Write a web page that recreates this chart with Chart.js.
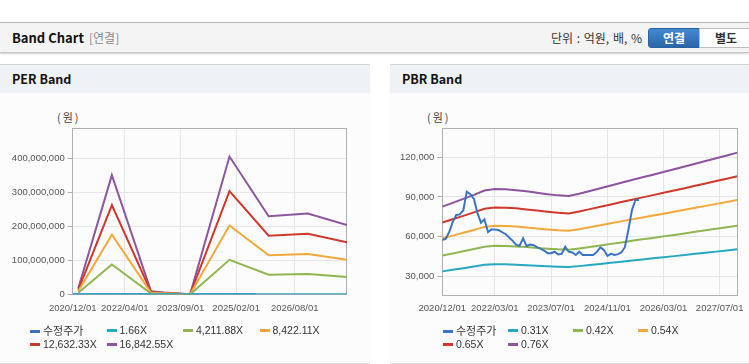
<!DOCTYPE html>
<html>
<head>
<meta charset="utf-8">
<script src="https://cdn.jsdelivr.net/npm/chart.js@4.4.1/dist/chart.umd.min.js"></script>
<style>
  body { margin:0; width:749px; height:364px; overflow:hidden; position:relative; background:#fff;
         font-family:"Noto Sans CJK KR", "Liberation Sans", sans-serif; color:#333; }
  .abs { position:absolute; }
  #hdr { left:0; top:22px; width:749px; height:29px; background:#f4f4f4; border-top:1px solid #b9b9b9;
         border-bottom:1px solid #c4c4c4; box-shadow:0 1px 2px rgba(0,0,0,.18); }
  #hdr .ttl { left:12px; top:0; line-height:29px; font-weight:bold; font-size:13px; color:#111; }
  #hdr .sub { left:89px; top:0; line-height:29px; font-size:12px; color:#8a8a8a; }
  #hdr .unit { left:551px; top:0; line-height:29px; font-size:12px; color:#333; word-spacing:1px; }
  .btn { top:5px; height:18px; line-height:18px; font-size:12px; font-weight:bold; text-align:center; }
  #b1 { left:648px; width:50px; color:#fff; background:linear-gradient(#4289d2,#2b66a6); border:1px solid #2a62a0; border-radius:3px 0 0 3px; }
  #b2 { left:699px; width:52px; color:#333; background:#fff; border:1px solid #bdbdbd; }
  .panel { top:64px; height:298px; background:#fcfcfc; border-top:1px solid #d3d3d3; border-bottom:1px solid #dcdcdc; }
  .panel .ptl { height:28px; line-height:28px; background:#eef2f7; padding-left:12px; font-weight:bold; font-size:12.5px; color:#111; }
  .unitlbl { font-size:11px; color:#444; top:109px; letter-spacing:2px; }
  canvas { position:absolute; top:100px; }
  .legend { position:absolute; top:323px; font-family:"Liberation Sans", "Noto Sans CJK KR", sans-serif; font-size:10.5px; color:#333; display:flex; flex-wrap:wrap; }
  .legend div { height:14px; line-height:14px; white-space:nowrap; }
  .legend i { display:inline-block; width:10px; height:3px; vertical-align:middle; margin-right:3px; position:relative; top:-1px; }
  .legend .ko { font-family:"Noto Sans CJK KR", sans-serif; font-size:11px; }
</style>
</head>
<body>
<div id="hdr" class="abs">
  <span class="abs ttl">Band Chart</span>
  <span class="abs sub">[연결]</span>
  <span class="abs unit">단위 : 억원, 배, %</span>
  <div id="b1" class="abs btn">연결</div>
  <div id="b2" class="abs btn">별도</div>
</div>

<div class="abs panel" style="left:0;width:370px;"><div class="ptl">PER Band</div></div>
<div class="abs panel" style="left:390px;width:370px;"><div class="ptl">PBR Band</div></div>

<span class="abs unitlbl" style="left:57px;">(원)</span>
<span class="abs unitlbl" style="left:427px;">(원)</span>

<canvas id="perChart" width="370" height="225" style="left:0;"></canvas>
<canvas id="pbrChart" width="359" height="225" style="left:390px;"></canvas>

<div id="perLegend" class="legend" style="left:30px;width:320px;"></div>
<div id="pbrLegend" class="legend" style="left:443px;width:280px;"></div>

<script>
// --- series names / colours ---
const colors = ['#3b74c6', '#27a8c0', '#8fb650', '#f2a83c', '#d0382e', '#8c559f'];
const perNames = ['수정주가', '1.66X', '4,211.88X', '8,422.11X', '12,632.33X', '16,842.55X'];
const pbrNames = ['수정주가', '0.31X', '0.42X', '0.54X', '0.65X', '0.76X'];

// --- axis ticks ---
const perXTicks = ['2020/12/01', '2022/04/01', '2023/09/01', '2025/02/01', '2026/08/01'];
const pbrXTicks = ['2020/12/01', '2022/03/01', '2023/07/01', '2024/11/01', '2026/03/01', '2027/07/01'];
const perYTicks = [0, 100000000, 200000000, 300000000, 400000000];
const pbrYTicks = [30000, 60000, 90000, 120000];
const xStart = '2020/12/01', xEnd = '2027/12/01';

// --- adjusted price (monthly, 2020/12 .. 2025/08) ---
const price = [57500, 58500, 64000, 71000, 76400, 76800, 80000, 94000, 92000, 88500, 78000, 70600,
  73100, 63500, 65500, 65300, 65000, 63500, 62000, 59500, 57000, 54000, 52900, 58700,
  53000, 54000, 53500, 52000, 51000, 49500, 47500, 47500, 48600, 46500, 47000, 52400,
  48600, 48000, 46100, 48600, 46100, 46100, 46100, 46100, 48500, 51900, 50000, 45400,
  47000, 46100, 46800, 48000, 52000, 65000, 80000, 87700, 87700];

// --- PER band ---
const perDates = ['2021/01/22', '2021/12/01', '2022/12/01', '2023/04/01', '2023/12/01', '2024/12/01', '2025/12/01', '2026/12/01', '2027/12/01'];
const perLowDates = ['2020/12/01', '2021/12/01', '2022/12/01', '2023/12/01', '2024/12/01', '2025/12/01', '2026/12/01', '2027/12/01'];
const per166 = [1700, 34600, 900, 50, 40000, 22700, 23400, 20100];
const per4211 = [4400000, 88000000, 2300000, 1400000, 100000, 101500000, 57500000, 59500000, 51000000];
const per8422 = [8800000, 175500000, 4500000, 2800000, 250000, 203000000, 115000000, 119000000, 102000000];
const per12632 = [13200000, 263000000, 6800000, 4100000, 400000, 304000000, 172500000, 178500000, 153000000];
const per16842 = [17600000, 351000000, 9000000, 5500000, 500000, 406000000, 230000000, 238000000, 204000000];

// --- PBR band (quarterly, 2020/12 .. 2027/12) ---
const pbr031 = [33730, 34880, 36120, 37360, 38690, 39150, 39060, 38810, 38440, 38010, 37570, 37200, 36980, 37700, 38530,
  39370, 40240, 41080, 41940, 42780, 43590, 44420, 45260, 46100, 46970, 47800, 48670, 49510, 50380];
const pbr042 = [45700, 47250, 48930, 50610, 52420, 53050, 52920, 52580, 52080, 51490, 50900, 50400, 50110, 51070, 52210,
  53340, 54520, 55650, 56830, 57960, 59050, 60190, 61320, 62450, 63630, 64760, 65940, 67070, 68250];
const pbr054 = [58750, 60750, 62910, 65070, 67390, 68200, 68040, 67610, 66960, 66200, 65450, 64800, 64420, 65660, 67120,
  68580, 70090, 71550, 73060, 74520, 75920, 77380, 78840, 80300, 81810, 83270, 84780, 86240, 87750];
const pbr065 = [70720, 73130, 75730, 78330, 81120, 82100, 81900, 81380, 80600, 79690, 78780, 78000, 77550, 79040, 80800,
  82550, 84370, 86130, 87950, 89700, 91390, 93150, 94900, 96660, 98480, 100230, 102050, 103810, 105630];
const pbr076 = [82690, 85500, 88540, 91580, 94850, 95990, 95760, 95150, 94240, 93180, 92110, 91200, 90670, 92420, 94470,
  96520, 98650, 100700, 102830, 104880, 106860, 108910, 110960, 113010, 115140, 117190, 119320, 121370, 123500];

// --- helpers ---
const T0 = Date.UTC(2020, 11, 1);
function day(s) { const [y, m, d] = s.split('/').map(Number); return (Date.UTC(y, m - 1, d) - T0) / 864e5; }
function monthDates(start, n, step) {
  let [y, m] = start.split('/').map(Number); const out = [];
  for (let i = 0; i < n; i++) {
    out.push(y + '/' + String(m).padStart(2, '0') + '/01');
    m += step; while (m > 12) { m -= 12; y++; }
  }
  return out;
}
const priceDates = monthDates('2020/12', price.length, 1);
const pbrDates = monthDates('2020/12', pbr031.length, 3);
const pts = (dates, vals) => vals.map((v, i) => ({ x: day(dates[i]), y: v }));
const line = (label, color, data, extra) => Object.assign({ label, data, borderColor: color, backgroundColor: color,
  borderWidth: 2, pointRadius: 0, tension: 0, fill: false }, extra || {});

// plot frame
const frame = {
  id: 'frame',
  beforeDatasetsDraw(chart) {
    const { ctx, chartArea: a } = chart;
    ctx.save();
    ctx.strokeStyle = '#b0b0b0'; ctx.lineWidth = 1;
    ctx.strokeRect(Math.floor(a.left) + 0.5, Math.floor(a.top) + 0.5, Math.round(a.right - a.left), Math.round(a.bottom - a.top));
    ctx.restore();
  }
};

const tickFont = { family: '"Liberation Sans", Arial, sans-serif', size: 9.5 };

function makeChart(id, datasets, xTicks, yTicks, yMin, yMax, yW, xH, padRight) {
  return new Chart(document.getElementById(id), {
    type: 'line',
    data: { datasets },
    options: {
      responsive: false, animation: false, devicePixelRatio: 1,
      layout: { padding: { top: 28, right: padRight, left: 0, bottom: 0 } },
      plugins: { legend: { display: false }, tooltip: { enabled: false } },
      scales: {
        x: {
          type: 'linear', min: day(xStart), max: day(xEnd),
          afterBuildTicks: s => { s.ticks = xTicks.map(d => ({ value: day(d) })); },
          afterFit: s => { s.height = xH; },
          grid: { color: '#e6e6e6', tickLength: 5, tickColor: 'rgba(0,0,0,0)' },
          border: { display: false },
          ticks: { autoSkip: false, maxRotation: 0, padding: 3, color: '#555', font: tickFont,
                   callback: v => xTicks.find(d => day(d) === v) || '' }
        },
        y: {
          min: yMin, max: yMax,
          afterBuildTicks: s => { s.ticks = yTicks.map(v => ({ value: v })); },
          afterFit: s => { s.width = yW; },
          grid: { color: '#e6e6e6', tickLength: 5, tickColor: '#b0b0b0' },
          border: { display: false },
          ticks: { padding: 3, color: '#555', font: tickFont, callback: v => v.toLocaleString('en-US') }
        }
      }
    },
    plugins: [frame]
  });
}

makeChart('perChart', [
  line(perNames[0], colors[0], pts(priceDates, price), { order: 1 }),
  line(perNames[1], colors[1], pts(perLowDates, per166)),
  line(perNames[2], colors[2], pts(perDates, per4211)),
  line(perNames[3], colors[3], pts(perDates, per8422)),
  line(perNames[4], colors[4], pts(perDates, per12632)),
  line(perNames[5], colors[5], pts(perDates, per16842))
], perXTicks, perYTicks, 0, 490000000, 72.7, 30.7, 23);

makeChart('pbrChart', [
  line(pbrNames[0], colors[0], pts(priceDates, price)),
  line(pbrNames[1], colors[1], pts(pbrDates, pbr031)),
  line(pbrNames[2], colors[2], pts(pbrDates, pbr042)),
  line(pbrNames[3], colors[3], pts(pbrDates, pbr054)),
  line(pbrNames[4], colors[4], pts(pbrDates, pbr065)),
  line(pbrNames[5], colors[5], pts(pbrDates, pbr076))
], pbrXTicks, pbrYTicks, 15870, 142140, 52.3, 30, 11.7);

// --- legends ---
function legend(id, names, colW) {
  const box = document.getElementById(id);
  names.forEach((n, i) => {
    const d = document.createElement('div');
    d.style.width = colW + 'px';
    const ko = /[가-힣]/.test(n) ? ' class="ko"' : '';
    d.innerHTML = `<i style="background:${colors[i]}"></i><span${ko}>${n}</span>`;
    box.appendChild(d);
  });
}
legend('perLegend', perNames, 76.5);
legend('pbrLegend', pbrNames, 65);
</script>
</body>
</html>
